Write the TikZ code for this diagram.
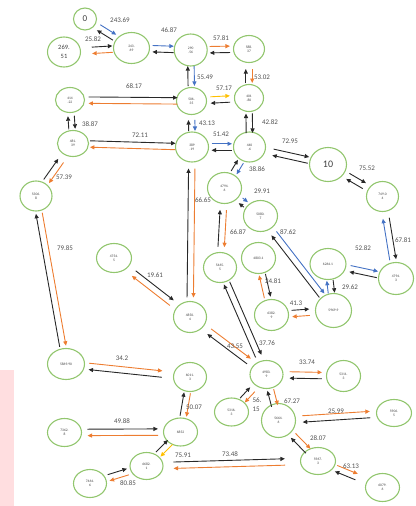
\documentclass[tikz,border=0pt]{standalone}
\usepackage{fontspec}
\setmainfont{Carlito}
\usetikzlibrary{shapes.geometric,arrows.meta,calc}
\definecolor{cgrn}{RGB}{146,198,110}
\definecolor{corg}{RGB}{237,125,49}
\definecolor{cblu}{RGB}{68,114,196}
\definecolor{cyel}{RGB}{255,192,0}
\definecolor{cblk}{RGB}{40,40,40}
\definecolor{cpink}{RGB}{255,222,224}
\definecolor{ctxt}{RGB}{80,80,80}
\newcommand\pairoff{3.2pt}
% #1 a, #2 b, #3 colour a->b, #4 colour b->a, #5 shorten at a, #6 shorten at b
\newcommand\pr[6]{%
  \draw[con,#3,shorten <=#5pt,shorten >=#6pt] ($(#1.center)!\pairoff!90:(#2.center)$) -- ($(#2.center)!\pairoff!-90:(#1.center)$);
  \draw[con,#4,shorten <=#6pt,shorten >=#5pt] ($(#2.center)!\pairoff!90:(#1.center)$) -- ($(#1.center)!\pairoff!-90:(#2.center)$);
}
\begin{document}
\begin{tikzpicture}[x=1pt,y=-1pt,
  nd/.style 2 args={ellipse, draw=cgrn, line width=1.1pt, minimum width=#1pt, minimum height=#2pt,
    inner sep=0pt, align=center, text=black!75, font=\fontsize{3.6}{4.2}\selectfont},
  con/.style={-{Triangle[length=4.5pt,width=4pt]}, line width=0.9pt},
  lb/.style={font=\fontsize{7}{8}\selectfont, text=ctxt, inner sep=0pt}]
\useasboundingbox (0,0) rectangle (415,506);
\fill[cpink] (0,370) rectangle (14,506);

% nodes
\node[nd={23}{22},font=\fontsize{9}{10}\selectfont] (n0) at (85,19) {0};
\node[nd={33}{30},font=\fontsize{6.5}{9}\selectfont] (n269) at (64,52) {269.\\51};
\node[nd={36}{31}] (n243) at (131.5,48) {243.\\69};
\node[nd={33}{32}] (n290) at (190.7,50) {290\\.56};
\node[nd={31}{27}] (n588) at (249,49) {588.\\37};
\node[nd={29}{25}] (n414) at (70,100) {414\\.22};
\node[nd={30}{27}] (n506) at (191.5,101) {506.\\35};
\node[nd={29}{27}] (n401) at (249,98) {401\\.80};
\node[nd={31}{26}] (n481) at (73,143.5) {481.\\39};
\node[nd={33}{30}] (n389) at (192,147) {389\\.19};
\node[nd={32}{30}] (n440) at (249.5,147) {440\\.6};
\node[nd={37}{34},font=\fontsize{10}{11}\selectfont] (n10) at (328,164.5) {10};
\node[nd={32}{30}] (n5306) at (36,196) {5306.\\8};
\node[nd={32}{30}] (n749) at (382.5,196.5) {749.0\\4};
\node[nd={34}{31}] (n47946) at (224.5,188) {4794.\\6};
\node[nd={34}{31}] (n5080) at (260.5,216) {5080.\\7};
\node[nd={35}{29}] (n4754) at (114,258) {4754.\\5};
\node[nd={33}{30}] (n5465) at (220,267.5) {5465.\\5};
\node[nd={34}{31}] (n4803) at (258.5,258) {4803.1};
\node[nd={34}{31}] (n6382) at (271.5,315) {6382.\\9};
\node[nd={33}{31}] (n4850) at (190,317) {4850.\\4};
\node[nd={36}{31}] (n6264) at (328,264) {6264.1};
\node[nd={35}{32}] (n47943) at (396,278.5) {4794.\\3};
\node[nd={36}{34}] (n5969) at (333.5,310.5) {5969.9};
\node[nd={37}{31}] (n5869) at (66,364) {5869.90};
\node[nd={33}{29}] (n6011) at (190,377) {6011.\\3};
\node[nd={33}{28}] (n4983) at (266.5,374.5) {4983.\\9};
\node[nd={34}{31}] (n5311) at (343.5,376) {5311.\\3};
\node[nd={34}{28}] (n7362) at (64.5,432.5) {7362.\\8};
\node[nd={34}{28}] (n6852) at (180.5,432) {6852};
\node[nd={34}{28}] (n5316) at (231.5,412) {5316.\\3};
\node[nd={34}{34}] (n5664) at (278.5,420.5) {5664.\\6};
\node[nd={35}{27}] (n5906) at (394,413) {5906.\\5};
\node[nd={33}{27}] (n6682) at (146.5,466) {6682.\\1};
\node[nd={33}{28}] (n7464) at (90,483.5) {7464.\\6};
\node[nd={35}{27}] (n5967) at (318,461) {5967.\\3};
\node[nd={34}{28}] (n6079) at (382.5,487.5) {6079.\\6};

% connectors
\pr{n0}{n243}{cblu}{cblk}{16}{20}
\pr{n269}{n243}{cblk}{corg}{28}{19}
\pr{n243}{n290}{cblu}{cblk}{21}{17}
\pr{n290}{n588}{corg}{cblk}{19}{19}
\pr{n506}{n290}{cblk}{cblu}{15}{16}
\pr{n506}{n401}{cyel}{cblk}{19}{19}
\pr{n401}{n588}{cblk}{corg}{15}{20}
\pr{n414}{n506}{cblk}{corg}{18.5}{14}
\pr{n481}{n414}{cblk}{cblk}{14.5}{16}
\pr{n481}{n389}{cblk}{corg}{17}{16.5}
\pr{n481}{n5306}{corg}{cblk}{21}{18}
\pr{n389}{n506}{cblk}{cblu}{16}{19}
\pr{n440}{n401}{cblk}{cblk}{14}{15.5}
\pr{n389}{n440}{cblu}{cblk}{19.5}{17.5}
\pr{n440}{n10}{cblk}{cblk}{24}{20}
\pr{n10}{n749}{cblk}{cblk}{23}{21}
\pr{n749}{n47943}{cblk}{cblu}{22}{19}
\pr{n6264}{n47943}{cblu}{cblk}{22.5}{19}
\pr{n6264}{n5969}{cblk}{cblu}{16.5}{17.5}
\pr{n5080}{n5969}{cblu}{cblk}{22}{19}
\pr{n6382}{n5969}{cblk}{corg}{20.5}{24}
\pr{n4803}{n6382}{cblk}{corg}{17}{18}
\pr{n47946}{n440}{cblk}{cblu}{18}{17}
\pr{n47946}{n5080}{cblu}{cblk}{20.5}{18.5}
\pr{n5465}{n47946}{cblk}{corg}{20.5}{22}
\pr{n4850}{n389}{cblk}{corg}{19.5}{21.5}
\pr{n4754}{n4850}{cblk}{corg}{25}{23}
\pr{n4983}{n4850}{cblk}{corg}{22}{24}
\pr{n5465}{n4983}{cblk}{cblk}{17}{20}
\pr{n5869}{n6011}{corg}{cblk}{23}{28}
\pr{n5306}{n5869}{corg}{cblk}{17.5}{18}
\pr{n6852}{n6011}{cblk}{corg}{16}{16}
\pr{n7362}{n6852}{cblk}{corg}{23}{22.5}
\pr{n6682}{n6852}{cblk}{cyel}{16.5}{14.5}
\pr{n7464}{n6682}{cblk}{corg}{19.5}{19.5}
\pr{n6682}{n5967}{cblk}{corg}{27}{33}
\pr{n4983}{n5311}{corg}{cblk}{23}{21.5}
\pr{n5316}{n4983}{cblk}{corg}{16}{20.5}
\pr{n5664}{n4983}{cblk}{corg}{15}{16}
\pr{n5664}{n5906}{corg}{cblk}{24}{24}
\pr{n5664}{n5967}{corg}{cblk}{21}{14}
\pr{n5967}{n6079}{corg}{cblk}{19.5}{28}

% weight labels
\node[lb] (l1) at (120,20) {243.69};
\node[lb] (l2) at (93,39) {25.82};
\node[lb] (l3) at (169,30) {46.87};
\node[lb] (l4) at (221,38) {57.81};
\node[lb] (l5) at (205,77) {55.49};
\node[lb] (l6) at (224,88) {57.17};
\node[lb] (l7) at (262,77) {53.02};
\node[lb] (l8) at (134,86) {68.17};
\node[lb] (l9) at (90,124) {38.87};
\node[lb] (l10) at (140,135) {72.11};
\node[lb] (l11) at (64,177) {57.39};
\node[lb] (l12) at (207,123) {43.13};
\node[lb] (l13) at (270,122) {42.82};
\node[lb] (l14) at (221,134) {51.42};
\node[lb] (l15) at (290,141) {72.95};
\node[lb] (l16) at (367,168) {75.52};
\node[lb] (l17) at (403,240) {67.81};
\node[lb] (l18) at (363,248) {52.82};
\node[lb] (l19) at (350,287) {29.62};
\node[lb] (l20) at (288,232) {87.62};
\node[lb] (l21) at (296,303) {41.3};
\node[lb] (l22) at (273,281) {24.81};
\node[lb] (l23) at (257,169) {38.86};
\node[lb] (l24) at (262,191) {29.91};
\node[lb] (l25) at (238,232) {66.87};
\node[lb] (l26) at (203,200) {66.65};
\node[lb] (l27) at (155,275) {19.61};
\node[lb] (l28) at (235,346) {43.55};
\node[lb] (l29) at (267,343) {37.76};
\node[lb] (l30) at (122,358) {34.2};
\node[lb] (l31) at (65,248) {79.85};
\node[lb] (l32) at (194,407) {50.07};
\node[lb] (l33) at (122,421) {49.88};
\node[lb] (l34) at (183,455) {75.91};
\node[lb] (l35) at (128,483) {80.85};
\node[lb] (l36) at (230,454) {73.48};
\node[lb] (l37) at (307,362) {33.74};
\node[lb,align=left] (l38) at (257,405) {56.\\[1pt]15};
\node[lb] (l39) at (292,401) {67.27};
\node[lb] (l40) at (336,411) {25.99};
\node[lb] (l41) at (318,438) {28.07};
\node[lb] (l42) at (351,466) {63.13};
\end{tikzpicture}
\end{document}
